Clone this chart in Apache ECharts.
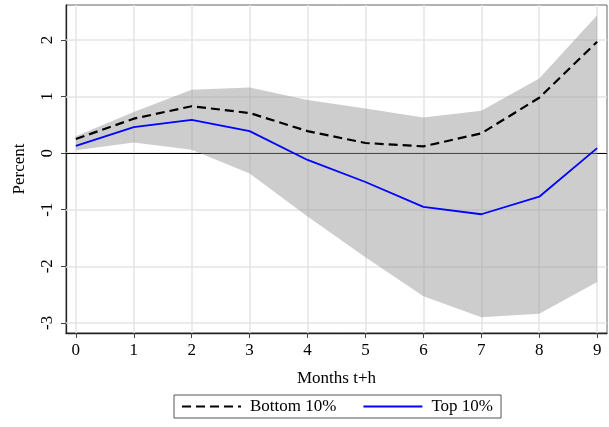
<!DOCTYPE html>
<html>
<head>
<meta charset="utf-8">
<script src="https://cdn.jsdelivr.net/npm/echarts@6/dist/echarts.min.js"></script>
<style>
  html, body { margin: 0; padding: 0; background: #fff; }
  #chart { width: 609px; height: 427px; }
</style>
</head>
<body>
<div id="chart"></div>
<script>
// Horizon in months
const months = [0, 1, 2, 3, 4, 5, 6, 7, 8, 9];
// Impulse responses (percent)
const bottom10 = [0.25, 0.61, 0.83, 0.71, 0.39, 0.18, 0.12, 0.35, 0.98, 1.97];
const top10 = [0.13, 0.46, 0.59, 0.39, -0.12, -0.51, -0.95, -1.08, -0.77, 0.09];
// Confidence band
const bandLower = [0.05, 0.19, 0.06, -0.36, -1.12, -1.84, -2.53, -2.90, -2.84, -2.28];
const bandUpper = [0.30, 0.73, 1.12, 1.16, 0.94, 0.79, 0.63, 0.75, 1.32, 2.44];
// Tick labels
const xTicks = [0, 1, 2, 3, 4, 5, 6, 7, 8, 9];
const yTicks = [-3, -2, -1, 0, 1, 2];

const font = 'Liberation Serif';
const pair = (xs, ys) => xs.map((x, i) => [x, ys[i]]);

const gridLines = [];
xTicks.forEach(v => gridLines.push({ xAxis: v }));
yTicks.forEach(v => gridLines.push({ yAxis: v }));

// band rows: [month, lower, upper]
const bandRows = months.map((m, i) => [m, bandLower[i], bandUpper[i]]);

function renderBand(params, api) {
  if (params.dataIndex !== 0) return null;
  const upperPts = bandRows.map(r => api.coord([r[0], r[2]]));
  const lowerPts = bandRows.map(r => api.coord([r[0], r[1]])).reverse();
  return {
    type: 'polygon',
    shape: { points: upperPts.concat(lowerPts) },
    style: { fill: 'rgba(150,150,150,0.48)', stroke: null }
  };
}

const chart = echarts.init(document.getElementById('chart'), null, { renderer: 'canvas' });
chart.setOption({
  animation: false,
  backgroundColor: '#ffffff',
  textStyle: { fontFamily: font },
  grid: {
    left: 66, right: 2, top: 5, bottom: 94,
    show: true, borderColor: '#666', borderWidth: 1, backgroundColor: 'transparent'
  },
  xAxis: {
    type: 'value', min: -0.17, max: 9.17,
    name: 'Months t+h', nameLocation: 'middle', nameGap: 37,
    nameTextStyle: { fontFamily: font, fontSize: 17, color: '#000' },
    axisLine: { show: true, onZero: false, lineStyle: { color: '#222', width: 1.3 } },
    axisTick: { show: true, customValues: xTicks, length: 5, lineStyle: { color: '#444' } },
    axisLabel: { customValues: xTicks, fontFamily: font, fontSize: 17, color: '#000', margin: 9 },
    splitLine: { show: false }
  },
  yAxis: {
    type: 'value', min: -3.18, max: 2.62,
    name: 'Percent', nameLocation: 'middle', nameGap: 38, nameRotate: 90,
    nameTextStyle: { fontFamily: font, fontSize: 17, color: '#000' },
    axisLine: { show: true, onZero: false, lineStyle: { color: '#222', width: 1.3 } },
    axisTick: { show: true, customValues: yTicks, length: 5, lineStyle: { color: '#444' } },
    axisLabel: { customValues: yTicks, rotate: 90, fontFamily: font, fontSize: 17, color: '#000', margin: 10 },
    splitLine: { show: false }
  },
  legend: {
    data: ['Bottom 10%', 'Top 10%'],
    left: 174, top: 395,
    itemWidth: 59, itemHeight: 12, itemGap: 26,
    padding: [3, 8, 3, 7],
    borderColor: '#555', borderWidth: 1,
    itemStyle: { opacity: 0 },
    textStyle: { fontFamily: font, fontSize: 17, color: '#000', padding: [0, 0, 0, 4] }
  },
  series: [
    {
      // light reference grid
      type: 'line', data: [], z: 0, silent: true,
      markLine: {
        silent: true, symbol: 'none', label: { show: false },
        lineStyle: { color: '#e4e4e4', width: 1.5, type: 'solid' },
        data: gridLines
      }
    },
    {
      name: 'band', type: 'custom', z: 5, silent: true,
      data: bandRows,
      encode: { x: 0, y: [1, 2] },
      renderItem: renderBand
    },
    {
      // zero reference line
      type: 'line', data: [], z: 6, silent: true,
      markLine: {
        silent: true, symbol: 'none', label: { show: false },
        lineStyle: { color: '#000', width: 1.2, type: 'solid' },
        data: [{ yAxis: 0 }]
      }
    },
    {
      name: 'Bottom 10%', type: 'line', z: 7,
      data: pair(months, bottom10),
      symbol: 'none',
      lineStyle: { color: '#000', width: 2.2, type: [9, 5] },
      itemStyle: { color: '#000' }
    },
    {
      name: 'Top 10%', type: 'line', z: 7,
      data: pair(months, top10),
      symbol: 'none',
      lineStyle: { color: '#0000ff', width: 1.8 },
      itemStyle: { color: '#0000ff' }
    }
  ]
});
</script>
</body>
</html>
